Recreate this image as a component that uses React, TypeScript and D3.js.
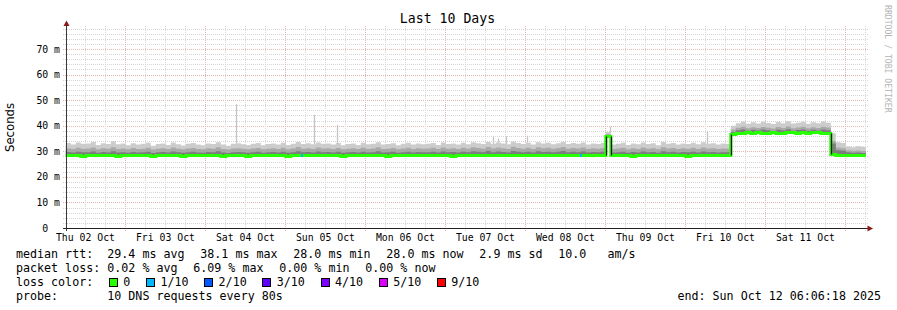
import React from "react";
import * as d3 from "d3";

// ---- time frame (Smokeping "Last 10 Days") ----
const START = new Date(2025, 9, 2, 6, 6, 18);
const END = new Date(2025, 9, 12, 6, 6, 18);
const BIN_MINUTES = 90; // one sample per 90 minutes, 160 samples

// ---- median RTT (ms), one value per bin ----
const medianMs = [
  28.2, 28.3, 28.2, 28.1, 28.2, 28.4, 28.2, 28.2, 28.3, 28.2, 28.1, 28.2,
  28.2, 28.3, 28.2, 28.2, 28.4, 28.1, 28.2, 28.2, 28.3, 28.2, 28.2, 28.1,
  28.2, 28.3, 28.2, 28.2, 28.2, 28.4, 28.2, 28.1, 28.2, 28.3, 28.2, 28.2,
  28.1, 28.2, 28.3, 28.2, 28.2, 28.2, 28.4, 28.2, 28.1, 28.2, 28.3, 28.2,
  28.2, 28.2, 28.3, 28.2, 28.4, 28.2, 28.2, 28.1, 28.2, 28.3, 28.2, 28.2,
  28.2, 28.3, 28.2, 28.2, 28.1, 28.2, 28.4, 28.2, 28.2, 28.3, 28.2, 28.2,
  28.3, 28.2, 28.2, 28.4, 28.2, 28.1, 28.2, 28.3, 28.2, 28.2, 28.4, 28.2,
  28.3, 28.2, 28.4, 28.2, 28.2, 28.3, 28.2, 28.2, 28.4, 28.2, 28.3, 28.2,
  28.2, 28.3, 28.2, 28.4, 28.2, 28.2, 28.3, 28.2, 28.2, 28.4, 28.2, 28.3,
  35.7,
  28.2, 28.2, 28.3, 28.2, 28.1, 28.2, 28.3, 28.2, 28.2, 28.4, 28.2, 28.2,
  28.3, 28.2, 28.2, 28.1, 28.2, 28.3, 28.2, 28.2, 28.4, 28.2, 28.3, 28.2,
  36.4,
  37.1, 36.9, 37.3, 36.8, 37.2, 37.0, 36.9, 37.4, 37.1, 36.8, 37.2, 37.5,
  37.0, 37.3, 36.9, 37.2, 37.4, 37.1, 36.9,
  28.8,
  28.3, 28.2, 28.2, 28.3, 28.2, 28.2,
];

// ---- smoke: upper edge of darkest band (ms) ----
const smokeDarkMs = [
  29.7, 29.5, 29.8, 29.6, 29.6, 29.9, 29.4, 29.7, 29.5, 30.0, 29.5, 29.6,
  29.4, 29.7, 29.5, 29.6, 29.8, 29.3, 29.6, 29.7, 29.5, 29.9, 29.6, 29.4,
  29.6, 29.8, 29.5, 29.4, 29.7, 29.6, 30.0, 29.5, 29.3, 29.6, 29.7, 29.6,
  29.4, 29.6, 29.8, 29.4, 29.6, 29.7, 29.5, 29.8, 29.4, 29.6, 30.0, 29.6,
  29.7, 29.5, 29.9, 29.6, 29.7, 29.5, 29.8, 29.4, 29.6, 29.7, 29.5, 29.8,
  29.5, 29.6, 30.0, 29.5, 29.6, 29.8, 29.4, 29.6, 29.8, 29.5, 29.7, 29.6,
  29.6, 29.8, 29.5, 29.9, 29.6, 29.7, 29.5, 29.8, 29.6, 30.0, 29.8, 29.6,
  30.1, 29.6, 29.9, 29.7, 29.5, 30.1, 29.8, 29.6, 29.8, 29.5, 30.0, 29.7,
  29.8, 29.6, 29.8, 30.1, 29.6, 29.8, 29.6, 29.9, 29.5, 29.7, 29.6, 29.8,
  36.0,
  29.5, 29.6, 29.8, 29.4, 29.7, 29.5, 29.9, 29.6, 29.7, 29.4, 30.0, 29.6,
  29.8, 29.5, 29.7, 29.6, 29.8, 29.5, 29.9, 29.6, 29.7, 29.5, 29.6, 29.6,
  37.5,
  38.2, 38.5, 38.0, 38.4, 38.1, 38.5, 38.2, 37.9, 38.4, 38.1, 38.6, 38.0,
  38.3, 38.5, 38.0, 38.4, 38.1, 38.5, 38.2,
  33.0,
  30.4, 30.2, 29.6, 29.4, 29.5, 29.3,
];

// ---- smoke: upper edge of medium band (ms) ----
const smokeMidMs = [
  31.2, 30.9, 31.4, 31.0, 31.1, 31.5, 30.8, 31.2, 31.0, 31.6, 30.9, 31.1,
  30.8, 31.3, 30.9, 31.0, 31.4, 30.7, 31.0, 31.2, 30.9, 31.5, 31.0, 30.8,
  31.1, 31.3, 30.9, 30.8, 31.2, 31.0, 31.6, 30.9, 30.7, 31.1, 31.2, 31.0,
  30.8, 31.1, 31.3, 30.8, 31.0, 31.2, 30.9, 31.4, 30.8, 31.1, 31.7, 31.0,
  31.2, 30.9, 31.5, 31.1, 31.2, 30.9, 31.3, 30.8, 31.0, 31.2, 30.9, 31.4,
  30.9, 31.1, 31.6, 30.9, 31.0, 31.3, 30.8, 31.1, 31.4, 30.9, 31.2, 31.0,
  31.1, 31.4, 30.9, 31.5, 31.0, 31.2, 30.9, 31.4, 31.0, 31.6, 31.3, 31.0,
  31.7, 31.1, 31.5, 31.2, 30.9, 31.8, 31.3, 31.0, 31.4, 30.9, 31.6, 31.2,
  31.4, 31.0, 31.3, 31.7, 31.0, 31.3, 31.1, 31.5, 30.9, 31.2, 31.0, 31.3,
  36.8,
  30.9, 31.1, 31.4, 30.8, 31.2, 30.9, 31.5, 31.0, 31.2, 30.8, 31.6, 31.1,
  31.3, 30.9, 31.2, 31.0, 31.4, 30.9, 31.5, 31.1, 31.2, 30.9, 31.1, 31.0,
  38.5,
  39.2, 39.6, 39.0, 39.4, 39.1, 39.5, 39.2, 38.9, 39.5, 39.1, 39.7, 39.0,
  39.3, 39.6, 39.0, 39.4, 39.1, 39.6, 39.3,
  34.0,
  31.5, 31.2, 30.4, 30.2, 30.3, 30.1,
];

// ---- smoke: upper edge of lightest band = max ping (ms) ----
const smokeHiMs = [
  33.2, 32.6, 33.4, 32.9, 33.0, 33.6, 32.5, 33.1, 32.8, 33.9, 32.7, 33.0,
  32.4, 33.1, 32.6, 32.9, 33.3, 32.2, 32.8, 33.0, 32.5, 33.4, 32.7, 32.3,
  32.9, 33.2, 32.6, 32.4, 33.0, 32.8, 33.5, 32.6, 32.2, 32.9, 33.1, 32.7,
  32.5, 32.9, 33.2, 32.4, 32.8, 33.0, 32.6, 33.3, 32.5, 32.9, 33.6, 32.8,
  33.1, 32.7, 33.4, 32.9, 33.0, 32.6, 33.2, 32.4, 32.8, 33.0, 32.5, 33.3,
  32.7, 32.9, 33.5, 32.6, 32.8, 33.1, 32.4, 32.9, 33.3, 32.6, 33.0, 32.7,
  32.9, 33.2, 32.5, 33.4, 32.8, 33.0, 32.6, 33.3, 32.7, 33.5, 33.1, 32.8,
  33.6, 32.9, 33.4, 33.0, 32.7, 33.8, 33.2, 32.8, 33.3, 32.6, 33.5, 33.0,
  33.3, 32.7, 33.1, 33.6, 32.8, 33.2, 32.9, 33.4, 32.6, 33.0, 32.8, 33.2,
  37.5,
  32.6, 32.9, 33.3, 32.5, 33.0, 32.7, 33.4, 32.8, 33.1, 32.4, 33.6, 32.9,
  33.2, 32.6, 33.0, 32.8, 33.3, 32.7, 33.5, 32.9, 33.1, 32.6, 33.0, 32.8,
  40.0,
  41.0, 41.6, 40.8, 41.3, 40.9, 41.5, 41.1, 40.7, 41.4, 41.0, 41.7, 40.9,
  41.2, 41.5, 40.8, 41.3, 41.0, 41.6, 41.2,
  37.0,
  33.5, 33.2, 31.9, 31.6, 32.0, 31.7,
];

// ---- isolated single-sample ping spikes (hours after start, ms) ----
const spikeHours = [51.0, 74.5, 81.3, 128.1, 129.7, 132.1, 138.3, 163.3, 192.3];
const spikeMs = [48.4, 44.3, 40.3, 35.7, 35.0, 35.9, 36.1, 39.6, 37.7];

// ---- samples with 1/10 packet loss (hours after start) ----
const lossHours = [70.5, 154.3];
const lossLevels = [1, 1];

// ---- axes ----
const yTicksMs = [0, 10, 20, 30, 40, 50, 60, 70];
const yTickLabels = ["0  ", "10 m", "20 m", "30 m", "40 m", "50 m", "60 m", "70 m"];
const dayLabels = [
  "Thu 02 Oct", "Fri 03 Oct", "Sat 04 Oct", "Sun 05 Oct", "Mon 06 Oct",
  "Tue 07 Oct", "Wed 08 Oct", "Thu 09 Oct", "Fri 10 Oct", "Sat 11 Oct",
];

// ---- legend ----
const medianStats = ["29.4 ms avg", "38.1 ms max", "28.0 ms min", "28.0 ms now", "2.9 ms sd", "10.0   am/s"];
const lossStats = ["0.02 % avg", "6.09 % max", "0.00 % min", "0.00 % now"];
const lossColorLabels = ["0", "1/10", "2/10", "3/10", "4/10", "5/10", "9/10"];
const lossColors = ["#26ff00", "#00b8ff", "#0059ff", "#5e00ff", "#7e00ff", "#dd00ff", "#ff0000"];
const probeText = "10 DNS requests every 80s";
const endText = "end: Sun Oct 12 06:06:18 2025";

const MONO = "'DejaVu Sans Mono', monospace";
const SANS = "'DejaVu Sans', sans-serif";

export default function App() {
  const W = 897, H = 310;
  const left = 65.8, right = 865.8, bottom = 228, top = 28;
  const x = d3.scaleTime().domain([START, END]).range([left, right]);
  const y = d3.scaleLinear().domain([0, 78.2]).range([bottom, top]);
  const hoursToDate = (h: number) => new Date(START.getTime() + h * 3600000);
  const binDate = (i: number) => new Date(START.getTime() + i * BIN_MINUTES * 60000);

  type P = { t: Date; m: number; dk: number; md: number; hi: number };
  const pts: P[] = medianMs.map((m, i) => ({
    t: binDate(i), m, dk: smokeDarkMs[i], md: smokeMidMs[i], hi: smokeHiMs[i],
  }));
  pts.push({ ...pts[pts.length - 1], t: END });

  const band = (key: "dk" | "md" | "hi") =>
    d3.area<P>().x((d) => x(d.t)).y0((d) => y(d.m)).y1((d) => y(d[key])).curve(d3.curveStepAfter)(pts) || "";

  const ry = (v: number) => Math.floor(y(v)) + 0.5;
  const medianPath =
    d3.line<P>().x((d) => x(d.t)).y((d) => ry(d.m)).curve(d3.curveStepAfter)(pts) || "";
  const risers = pts.slice(1, -1)
    .map((p, k) => ({ x: Math.round(x(p.t)) + 0.5, y1: ry(pts[k].m), y2: ry(p.m), d: Math.abs(p.m - pts[k].m) }))
    .filter((r) => r.d > 1);

  // grid
  const hGrid = d3.range(0, 79, 2);
  const vGrid = d3.timeHour.every(6)!.range(START, END);
  const px = (v: number) => Math.round(v) + 0.5;

  const charW = 11.66 * 0.602;
  const gap = 15.8;
  const layout = (items: string[], x0: number) => {
    let cx = x0;
    return items.map((s) => {
      const r = { s, x: cx };
      cx += s.length * charW + gap;
      return r;
    });
  };

  const binOf = (h: number) => Math.min(medianMs.length - 1, Math.floor((h * 60) / BIN_MINUTES));

  let bx = 109;
  const boxes = lossColorLabels.map((lab, i) => {
    const r = { lab, col: lossColors[i], x: bx };
    bx += 14.3 + lab.length * charW + gap;
    return r;
  });

  return (
    <svg width={W} height={H} style={{ position: "absolute", left: 0, top: 0, background: "#fff" }}
      xmlns="http://www.w3.org/2000/svg">
      <rect width={W} height={H} fill="#ffffff" />
      {/* grid */}
      <g shapeRendering="crispEdges">
        {hGrid.map((v) => (
          <line key={"h" + v} x1={63} x2={868} y1={px(y(v))} y2={px(y(v))}
            stroke={v % 10 === 0 ? "#e2b4b4" : "#d6d6d6"} strokeDasharray="1,1" />
        ))}
        {vGrid.map((d) => (
          <line key={"v" + d.getTime()} x1={px(x(d))} x2={px(x(d))} y1={26} y2={231}
            stroke={d.getHours() === 0 ? "#e2b4b4" : "#d6d6d6"} strokeDasharray="1,1" />
        ))}
      </g>

      {/* smoke */}
      <path d={band("hi")} fill="#cccccc" />
      <path d={band("md")} fill="#a9a9a9" />
      <path d={band("dk")} fill="#7d7d7d" />
      {spikeHours.map((h, i) => (
        <line key={"s" + i} x1={px(x(hoursToDate(h)))} x2={px(x(hoursToDate(h)))}
          y1={y(spikeMs[i])} y2={y(smokeHiMs[binOf(h)])} stroke="#c4c4c4" strokeWidth={1.3} />
      ))}

      {/* median */}
      <path d={medianPath} fill="none" stroke="#26ff00" strokeWidth={3} />
      {risers.map((r, i) => (
        <line key={"r" + i} x1={r.x} x2={r.x} y1={r.y1} y2={r.y2} stroke="#1a1a1a" strokeWidth={1.3} />
      ))}
      {lossHours.map((h, i) => (
        <line key={"l" + i} x1={Math.round(x(hoursToDate(h)))} x2={Math.round(x(hoursToDate(h))) + 2}
          y1={ry(medianMs[binOf(h)])} y2={ry(medianMs[binOf(h)])}
          stroke={lossColors[lossLevels[i]]} strokeWidth={3} />
      ))}

      {/* axes */}
      <g shapeRendering="crispEdges">
        <line x1={66.5} x2={66.5} y1={25} y2={231} stroke="#3a3a3a" />
        <line x1={63} x2={868} y1={228.5} y2={228.5} stroke="#222" />
      </g>
      <path d="M66.5,20.5 L69.5,26 L63.5,26 Z" fill="#8b1a1a" />
      <path d="M873,228.5 L867.5,225.5 L867.5,231.5 Z" fill="#8b1a1a" />

      {/* y tick labels */}
      {yTicksMs.map((v, i) => (
        <text key={"yt" + v} x={60} y={y(v) + 3.6} textAnchor="end" fontFamily={MONO} fontSize={9.8}
          xmlSpace="preserve" style={{ whiteSpace: "pre" }} fill="#000">{yTickLabels[i]}</text>
      ))}
      {/* x tick labels at noon */}
      {dayLabels.map((lab, i) => {
        const noon = new Date(2025, 9, 2 + i, 12, 0, 0);
        return (
          <text key={"xt" + i} x={x(noon)} y={240.6} textAnchor="middle" fontFamily={MONO} fontSize={9.8} fill="#000">
            {lab}
          </text>
        );
      })}

      {/* title, axis label, watermark */}
      <text x={447.5} y={23.3} textAnchor="middle" fontFamily={MONO} fontSize={13.2} fill="#000">Last 10 Days</text>
      <text transform="translate(14,127.5) rotate(-90)" textAnchor="middle" fontFamily={SANS} fontSize={11.66} fill="#000">
        Seconds
      </text>
      <text transform="translate(885,5) rotate(90)" fontFamily={MONO} fontSize={8.15} fill="#b4b4b4">
        RRDTOOL / TOBI OETIKER
      </text>

      {/* legend */}
      <g fontFamily={MONO} fontSize={11.66} fill="#000">
        <text x={16} y={258}>median rtt:</text>
        {layout(medianStats, 107.3).map((e, i) => (
          <text key={"mt" + i} x={e.x} y={258} xmlSpace="preserve" style={{ whiteSpace: "pre" }}>{e.s}</text>
        ))}
        <text x={16} y={272.3}>packet loss:</text>
        {layout(lossStats, 107.3).map((e, i) => (
          <text key={"ls" + i} x={e.x} y={272.3}>{e.s}</text>
        ))}
        <text x={16} y={286.3}>loss color:</text>
        {boxes.map((b, i) => (
          <g key={"bx" + i}>
            <rect x={b.x + 0.5} y={278.5} width={8} height={8} fill={b.col} stroke="#000" strokeWidth={1}
              shapeRendering="crispEdges" />
            <text x={b.x + 14.3} y={286.3}>{b.lab}</text>
          </g>
        ))}
        <text x={16} y={300}>probe:</text>
        <text x={107.3} y={300}>{probeText}</text>
        <text x={881} y={300} textAnchor="end">{endText}</text>
      </g>
    </svg>
  );
}
